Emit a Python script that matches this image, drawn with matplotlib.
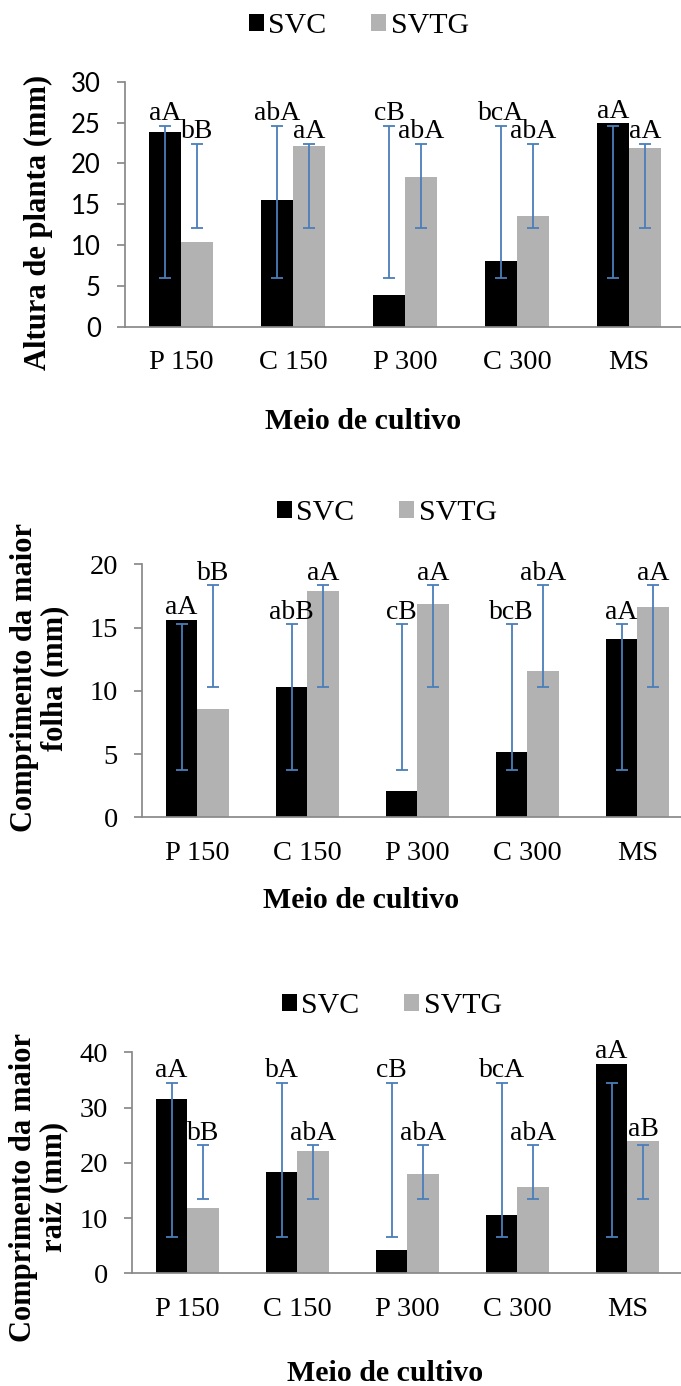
import matplotlib
matplotlib.use('Agg')
import matplotlib.pyplot as plt
import numpy as np

plt.rcParams['font.family'] = ['Liberation Serif', 'DejaVu Serif']

categories = ['P 150', 'C 150', 'P 300', 'C 300', 'MS']
series = ['SVC', 'SVTG']

# altura de planta (mm)
altura_svc = [23.8, 15.5, 3.9, 8.05, 24.9]
altura_svtg = [10.4, 22.1, 18.3, 13.6, 21.9]
altura_svc_lo = [6.0, 6.0, 6.0, 6.0, 6.0]
altura_svc_hi = [24.6, 24.6, 24.6, 24.6, 24.6]
altura_svtg_lo = [12.1, 12.1, 12.1, 12.1, 12.1]
altura_svtg_hi = [22.4, 22.4, 22.4, 22.4, 22.4]
altura_let_svc = ['aA', 'abA', 'cB', 'bcA', 'aA']
altura_let_svtg = ['bB', 'aA', 'abA', 'abA', 'aA']

# comprimento da maior folha (mm)
folha_svc = [15.6, 10.3, 2.05, 5.15, 14.1]
folha_svtg = [8.6, 17.9, 16.9, 11.6, 16.6]
folha_svc_lo = [3.7, 3.7, 3.7, 3.7, 3.7]
folha_svc_hi = [15.26, 15.26, 15.26, 15.26, 15.26]
folha_svtg_lo = [10.3, 10.3, 10.3, 10.3, 10.3]
folha_svtg_hi = [18.34, 18.34, 18.34, 18.34, 18.34]
folha_let_svc = ['aA', 'abB', 'cB', 'bcB', 'aA']
folha_let_svtg = ['bB', 'aA', 'aA', 'abA', 'aA']

# comprimento da maior raiz (mm)
raiz_svc = [31.5, 18.3, 4.3, 10.6, 37.9]
raiz_svtg = [11.8, 22.2, 17.9, 15.7, 23.9]
raiz_svc_lo = [6.5, 6.5, 6.5, 6.5, 6.5]
raiz_svc_hi = [34.5, 34.5, 34.5, 34.5, 34.5]
raiz_svtg_lo = [13.45, 13.45, 13.45, 13.45, 13.45]
raiz_svtg_hi = [23.2, 23.2, 23.2, 23.2, 23.2]
raiz_let_svc = ['aA', 'bA', 'cB', 'bcA', 'aA']
raiz_let_svtg = ['bB', 'abA', 'abA', 'abA', 'aB']

W, H = 681, 1386
AXCOL = '#898989'
ERRCOL = '#4a7ebb'
GRAY = '#b2b2b2'
BW = 1 / 3.5  # excel gap width 150%


def px_axes(fig, left, top, right, bottom):
    # pixel box -> figure coords
    return fig.add_axes([left / W, 1 - bottom / H, (right - left) / W, (bottom - top) / H])


def draw_panel(ax, svc, svtg, svc_lo, svc_hi, svtg_lo, svtg_hi, let_svc, let_svtg,
               ymax, step, sans_ticks=False):
    x = np.arange(len(categories))
    b1 = ax.bar(x - BW / 2, svc, BW, color='black', label=series[0], zorder=2)
    b2 = ax.bar(x + BW / 2, svtg, BW, color=GRAY, label=series[1], zorder=2)

    for xs, lo, hi in [(x - BW / 2, svc_lo, svc_hi), (x + BW / 2, svtg_lo, svtg_hi)]:
        lo = np.array(lo)
        hi = np.array(hi)
        ax.errorbar(xs, (lo + hi) / 2, yerr=(hi - lo) / 2, fmt='none', ecolor=ERRCOL,
                    elinewidth=1.3, capsize=4.3, capthick=1.3, zorder=3)

    for xs, vals, his, lets in [(x - BW / 2, svc, svc_hi, let_svc),
                                (x + BW / 2, svtg, svtg_hi, let_svtg)]:
        for xi, v, h, t in zip(xs, vals, his, lets):
            ax.annotate(t, (xi, max(v, h)), xytext=(0, 4), textcoords='offset points',
                        ha='center', va='baseline', fontsize=20, zorder=4)

    ax.set_xlim(-0.5, 4.5)
    ax.set_ylim(0, ymax)
    ax.set_yticks(np.arange(0, ymax + 0.1, step))
    ax.set_xticks(x)
    ax.set_xticklabels(categories, fontsize=20.5)
    ax.tick_params(axis='x', length=0, pad=17)
    ax.tick_params(axis='y', direction='out', length=5.5, width=1.25, color=AXCOL,
                   pad=12, labelsize=20.5)
    if sans_ticks:
        for lbl in ax.get_yticklabels():
            lbl.set_fontfamily('Lato')
            lbl.set_fontsize(18.5)
    for s in ['top', 'right']:
        ax.spines[s].set_visible(False)
    for s in ['left', 'bottom']:
        ax.spines[s].set_color(AXCOL)
        ax.spines[s].set_linewidth(1.25)
    return b1, b2


def add_legend(fig, handles, cx, cy):
    fig.legend(handles, series, loc='center', bbox_to_anchor=(cx / W, 1 - cy / H),
               ncol=2, frameon=False, fontsize=21.5, handlelength=0.5, handleheight=0.5,
               handletextpad=0.15, columnspacing=1.5, borderaxespad=0, borderpad=0)


fig = plt.figure(figsize=(W / 100, H / 100), dpi=100)

ax1 = px_axes(fig, 125, 81.7, 685, 326.7)
h = draw_panel(ax1, altura_svc, altura_svtg, altura_svc_lo, altura_svc_hi,
               altura_svtg_lo, altura_svtg_hi, altura_let_svc, altura_let_svtg,
               30, 5, sans_ticks=True)
add_legend(fig, h, 359, 25.8)
fig.text(38 / W, 1 - 222 / H, 'Altura de planta (mm)', rotation=90, ha='center',
         va='center', fontsize=22, fontweight='bold')
fig.text(363 / W, 1 - 429 / H, 'Meio de cultivo', ha='center', va='baseline',
         fontsize=21.5, fontweight='bold')

ax2 = px_axes(fig, 142.3, 564.3, 692.3, 817.3)
h = draw_panel(ax2, folha_svc, folha_svtg, folha_svc_lo, folha_svc_hi,
               folha_svtg_lo, folha_svtg_hi, folha_let_svc, folha_let_svtg, 20, 5)
add_legend(fig, h, 387, 512.7)
fig.text(40 / W, 1 - 678 / H, 'Comprimento da maior\nfolha (mm)', rotation=90,
         ha='center', va='center', multialignment='center', fontsize=22,
         fontweight='bold', linespacing=1.05)
fig.text(361 / W, 1 - 908 / H, 'Meio de cultivo', ha='center', va='baseline',
         fontsize=21.5, fontweight='bold')

ax3 = px_axes(fig, 132.3, 1052.3, 682.3, 1273.3)
h = draw_panel(ax3, raiz_svc, raiz_svtg, raiz_svc_lo, raiz_svc_hi,
               raiz_svtg_lo, raiz_svtg_hi, raiz_let_svc, raiz_let_svtg, 40, 10)
add_legend(fig, h, 392, 1006)
fig.text(39 / W, 1 - 1187 / H, 'Comprimento da maior\nraiz (mm)', rotation=90,
         ha='center', va='center', multialignment='center', fontsize=22,
         fontweight='bold', linespacing=1.05)
fig.text(385 / W, 1 - 1381 / H, 'Meio de cultivo', ha='center', va='baseline',
         fontsize=21.5, fontweight='bold')

fig.savefig('out.png', dpi=100)
